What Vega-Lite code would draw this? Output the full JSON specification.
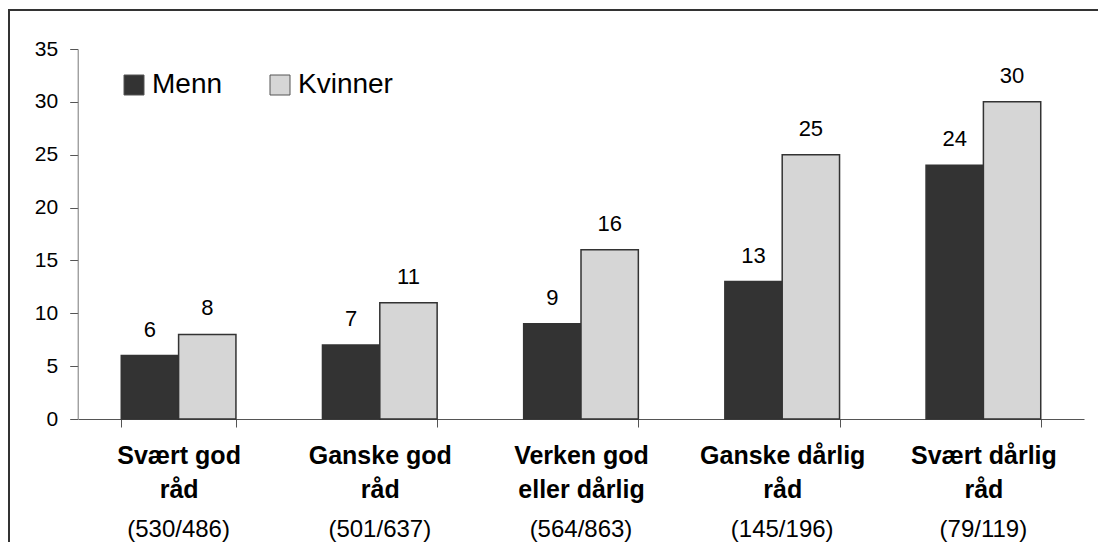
{
  "$schema": "https://vega.github.io/schema/vega-lite/v6.json",
  "autosize": {"type": "none"},
  "padding": {"left": 9, "top": 10, "right": 0, "bottom": 0},
  "width": 1100,
  "height": 560,
  "config": {
    "font": "Liberation Sans",
    "view": {"stroke": "#333333", "strokeWidth": 2},
    "axis": {"grid": false, "title": null, "domainColor": "#777777", "tickColor": "#555555", "labelColor": "#000000", "tickSize": 8}
  },
  "datasets": {
    "bars": [
      {"cat": "Svært god|råd", "kjonn": "Menn", "verdi": 6},
      {"cat": "Svært god|råd", "kjonn": "Kvinner", "verdi": 8},
      {"cat": "Ganske god|råd", "kjonn": "Menn", "verdi": 7},
      {"cat": "Ganske god|råd", "kjonn": "Kvinner", "verdi": 11},
      {"cat": "Verken god|eller dårlig", "kjonn": "Menn", "verdi": 9},
      {"cat": "Verken god|eller dårlig", "kjonn": "Kvinner", "verdi": 16},
      {"cat": "Ganske dårlig|råd", "kjonn": "Menn", "verdi": 13},
      {"cat": "Ganske dårlig|råd", "kjonn": "Kvinner", "verdi": 25},
      {"cat": "Svært dårlig|råd", "kjonn": "Menn", "verdi": 24},
      {"cat": "Svært dårlig|råd", "kjonn": "Kvinner", "verdi": 30}
    ],
    "counts": [
      {"cat": "Svært god|råd", "n": "(530/486)"},
      {"cat": "Ganske god|råd", "n": "(501/637)"},
      {"cat": "Verken god|eller dårlig", "n": "(564/863)"},
      {"cat": "Ganske dårlig|råd", "n": "(145/196)"},
      {"cat": "Svært dårlig|råd", "n": "(79/119)"}
    ]
  },
  "layer": [
    {
      "data": {"name": "bars"},
      "mark": {"type": "bar", "stroke": "#333333", "strokeWidth": 1.5},
      "encoding": {
        "x": {
          "field": "cat", "type": "nominal", "sort": null,
          "scale": {"range": [69, 1075], "paddingInner": 0.43, "paddingOuter": 0.215},
          "axis": {
            "orient": "bottom", "offset": -151, "tickBand": "extent",
            "labelExpr": "split(datum.label, '|')", "labelFontSize": 25, "labelFontWeight": "bold",
            "labelLineHeight": 34, "labelPadding": 16, "labelBaseline": "top", "labelAngle": 0,
            "domainColor": "#555555"
          }
        },
        "xOffset": {"field": "kjonn", "type": "nominal", "scale": {"domain": ["Menn", "Kvinner"]}},
        "y": {
          "field": "verdi", "type": "quantitative",
          "scale": {"domain": [0, 35], "range": [409, 39], "nice": false, "zero": true},
          "axis": {"orient": "left", "offset": -68.7, "values": [0, 5, 10, 15, 20, 25, 30, 35], "labelFontSize": 21, "labelPadding": 12}
        },
        "color": {
          "field": "kjonn", "type": "nominal",
          "scale": {"domain": ["Menn", "Kvinner"], "range": ["#333333", "#d6d6d6"]},
          "legend": {
            "orient": "none", "legendX": 111, "legendY": 61, "direction": "horizontal", "title": null,
            "symbolType": "square", "symbolSize": 400, "labelFontSize": 28, "labelOffset": 4,
            "columnPadding": 43, "symbolStrokeColor": "#555555", "symbolStrokeWidth": 1, "labelColor": "#000000"
          }
        }
      }
    },
    {
      "data": {"name": "bars"},
      "mark": {"type": "text", "baseline": "bottom", "dy": -14, "fontSize": 22, "color": "#000000"},
      "encoding": {
        "x": {"field": "cat", "type": "nominal", "sort": null},
        "xOffset": {"field": "kjonn", "type": "nominal", "scale": {"domain": ["Menn", "Kvinner"]}},
        "y": {"field": "verdi", "type": "quantitative"},
        "text": {"field": "verdi", "type": "quantitative"}
      }
    },
    {
      "data": {"name": "counts"},
      "mark": {"type": "text", "baseline": "middle", "dy": 111, "fontSize": 24, "color": "#000000"},
      "encoding": {
        "x": {"field": "cat", "type": "nominal", "sort": null},
        "y": {"datum": 0},
        "text": {"field": "n", "type": "nominal"}
      }
    }
  ]
}
